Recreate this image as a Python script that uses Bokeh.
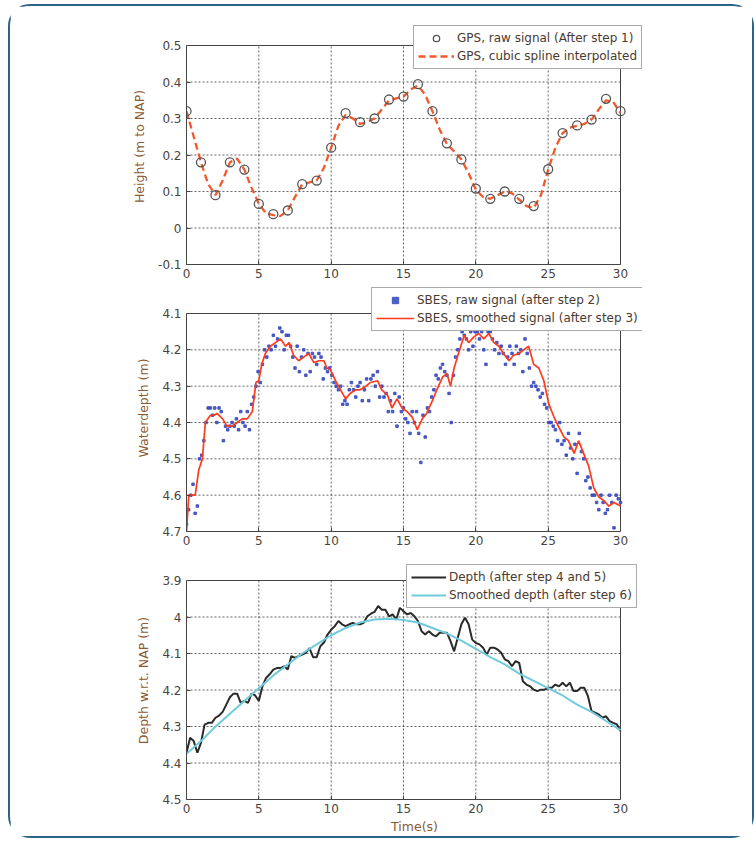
from bokeh.plotting import figure
from bokeh.layouts import column
from bokeh.models import Range1d, FixedTicker, CustomJSTickFormatter, Legend, LegendItem
from bokeh.embed import file_html
from bokeh.resources import INLINE

# ---------------- data ----------------
gps_t = list(range(0, 31))
gps_raw = [0.32, 0.18, 0.09, 0.18, 0.16, 0.066, 0.038, 0.048, 0.12, 0.13, 0.22,
           0.315, 0.29, 0.30, 0.352, 0.36, 0.394, 0.32, 0.232, 0.188, 0.108,
           0.08, 0.10, 0.08, 0.06, 0.161, 0.26, 0.281, 0.297, 0.354, 0.32]
spline_t = [i * 0.5 for i in range(61)]
spline_h = [0.32, 0.25, 0.18, 0.12, 0.09, 0.13, 0.18, 0.19, 0.16, 0.11,
            0.066, 0.04, 0.035, 0.033, 0.048, 0.085, 0.12, 0.125, 0.13, 0.165,
            0.22, 0.28, 0.31, 0.30, 0.285, 0.29, 0.30, 0.325, 0.35, 0.355,
            0.36, 0.38, 0.39, 0.365, 0.32, 0.27, 0.23, 0.21, 0.188, 0.15,
            0.105, 0.085, 0.08, 0.09, 0.10, 0.095, 0.078, 0.06, 0.055, 0.09,
            0.16, 0.22, 0.26, 0.275, 0.28, 0.285, 0.297, 0.325, 0.35, 0.345,
            0.315]

sbes_t = [round(i * 0.15, 2) for i in range(201)]
sbes_raw = [4.68, 4.64, 4.60, 4.57, 4.65, 4.63, 4.50, 4.49, 4.45, 4.40,
            4.36, 4.36, 4.38, 4.36, 4.40, 4.36, 4.37, 4.45, 4.41, 4.42,
            4.41, 4.40, 4.41, 4.39, 4.42, 4.37, 4.40, 4.41, 4.37, 4.42,
            4.35, 4.33, 4.30, 4.26, 4.29, 4.24, 4.20, 4.22, 4.19, 4.20,
            4.16, 4.19, 4.17, 4.14, 4.15, 4.20, 4.16, 4.16, 4.19, 4.22,
            4.25, 4.19, 4.26, 4.22, 4.20, 4.27, 4.21, 4.26, 4.21, 4.22,
            4.24, 4.21, 4.22, 4.28, 4.25, 4.26, 4.25, 4.27, 4.29, 4.30,
            4.31, 4.30, 4.35, 4.34, 4.35, 4.31, 4.29, 4.31, 4.33, 4.30,
            4.29, 4.34, 4.31, 4.28, 4.34, 4.28, 4.27, 4.30, 4.26, 4.33,
            4.30, 4.33, 4.32, 4.37, 4.34, 4.37, 4.32, 4.41, 4.33, 4.37,
            4.36, 4.39, 4.40, 4.43, 4.37, 4.40, 4.37, 4.43, 4.51, 4.38,
            4.44, 4.36, 4.37, 4.33, 4.31, 4.27, 4.28, 4.25, 4.24, 4.26,
            4.27, 4.32, 4.40, 4.27, 4.22, 4.20, 4.17, 4.15, 4.16, 4.17,
            4.20, 4.15, 4.19, 4.15, 4.15, 4.17, 4.15, 4.20, 4.24, 4.15,
            4.15, 4.17, 4.20, 4.18, 4.21, 4.19, 4.21, 4.24, 4.22, 4.19,
            4.21, 4.24, 4.19, 4.21, 4.20, 4.26, 4.17, 4.21, 4.25, 4.30,
            4.29, 4.30, 4.31, 4.33, 4.32, 4.35, 4.36, 4.40, 4.40, 4.41,
            4.42, 4.45, 4.40, 4.46, 4.45, 4.49, 4.43, 4.47, 4.50, 4.46,
            4.54, 4.43, 4.48, 4.50, 4.56, 4.55, 4.58, 4.60, 4.60, 4.62,
            4.64, 4.60, 4.62, 4.65, 4.64, 4.60, 4.62, 4.69, 4.60, 4.61,
            4.62]

smooth_t = [0.0, 0.16, 0.4, 0.6, 0.85, 1.1, 1.3, 1.65, 1.9, 2.1, 2.5, 2.8, 3.15,
            3.5, 3.85, 4.2, 4.55, 4.8, 5.0, 5.2, 5.45, 5.8, 6.15, 6.5, 6.85, 7.1,
            7.4, 7.75, 8.1, 8.45, 8.8, 9.15, 9.5, 9.7, 9.95, 10.3, 10.65, 11.0,
            11.3, 11.7, 12.0, 12.4, 12.7, 13.2, 13.5, 13.9, 14.2, 14.55, 14.9,
            15.25, 15.6, 15.95, 16.3, 16.6, 17.0, 17.3, 17.7, 18.0, 18.25, 18.5,
            18.8, 19.2, 19.5, 19.85, 20.2, 20.55, 20.9, 21.25, 21.6, 21.9, 22.3,
            22.6, 23.0, 23.3, 23.65, 24.0, 24.35, 24.7, 25.05, 25.4, 25.7, 26.1,
            26.4, 26.8, 27.1, 27.45, 27.8, 28.15, 28.5, 28.85, 29.2, 29.55, 30.0]
smooth_d = [4.70, 4.60, 4.60, 4.60, 4.53, 4.50, 4.40, 4.38, 4.38, 4.375, 4.39,
            4.41, 4.41, 4.40, 4.39, 4.39, 4.37, 4.29, 4.285, 4.24, 4.21, 4.19,
            4.18, 4.17, 4.19, 4.18, 4.215, 4.23, 4.22, 4.21, 4.235, 4.23, 4.23,
            4.25, 4.255, 4.285, 4.31, 4.335, 4.32, 4.31, 4.31, 4.30, 4.29, 4.285,
            4.31, 4.325, 4.36, 4.335, 4.36, 4.37, 4.385, 4.42, 4.39, 4.375, 4.34,
            4.31, 4.275, 4.265, 4.30, 4.25, 4.21, 4.16, 4.18, 4.165, 4.155, 4.17,
            4.155, 4.18, 4.19, 4.21, 4.23, 4.215, 4.21, 4.20, 4.19, 4.24, 4.25,
            4.285, 4.35, 4.385, 4.41, 4.44, 4.45, 4.485, 4.45, 4.485, 4.52, 4.58,
            4.605, 4.615, 4.63, 4.62, 4.63]

depth_t = [i * 0.25 for i in range(121)]
depth = [4.372, 4.331, 4.34, 4.372, 4.345, 4.295, 4.29, 4.29, 4.276, 4.27,
         4.26, 4.24, 4.22, 4.21, 4.21, 4.235, 4.23, 4.235, 4.21, 4.215,
         4.23, 4.19, 4.167, 4.157, 4.144, 4.14, 4.14, 4.135, 4.144, 4.107,
         4.112, 4.107, 4.103, 4.098, 4.085, 4.11, 4.11, 4.08, 4.07, 4.048,
         4.035, 4.025, 4.011, 4.02, 4.025, 4.02, 4.016, 4.02, 4.02, 4.016,
         3.998, 3.991, 3.986, 3.97, 3.98, 3.98, 3.998, 3.993, 4.007, 3.975,
         3.984, 3.993, 3.989, 3.998, 4.011, 4.039, 4.048, 4.039, 4.048, 4.053,
         4.043, 4.043, 4.043, 4.066, 4.094, 4.057, 4.02, 4.002, 4.02, 4.062,
         4.071, 4.075, 4.084, 4.103, 4.084, 4.084, 4.089, 4.098, 4.116, 4.121,
         4.135, 4.121, 4.126, 4.176, 4.185, 4.19, 4.199, 4.203, 4.199, 4.199,
         4.194, 4.194, 4.185, 4.19, 4.18, 4.19, 4.18, 4.203, 4.203, 4.194,
         4.194, 4.217, 4.258, 4.262, 4.267, 4.276, 4.272, 4.285, 4.29, 4.294,
         4.313]
sm_depth_t = list(range(0, 31))
sm_depth = [4.375, 4.34, 4.30, 4.265, 4.23, 4.195, 4.16, 4.13, 4.10, 4.075,
            4.05, 4.03, 4.015, 4.007, 4.005, 4.008, 4.015, 4.03, 4.045, 4.065,
            4.087, 4.11, 4.13, 4.155, 4.175, 4.195, 4.215, 4.24, 4.26, 4.285,
            4.31]

x_ticks = [0, 5, 10, 15, 20, 25, 30]
top_y_ticks = [-0.1, 0, 0.1, 0.2, 0.3, 0.4, 0.5]
mid_y_ticks = [4.1, 4.2, 4.3, 4.4, 4.5, 4.6, 4.7]
bot_y_ticks = [3.9, 4.0, 4.1, 4.2, 4.3, 4.4, 4.5]

# ---------------- styling ----------------
FONT = "DejaVu Sans"
TICK_COLOR = "#4a4440"
LABEL_COLOR = "#8a5a32"
BOX = "#444444"
fmt_code = "return String(Number(tick.toFixed(2)));"
PW, FW = 434, 742          # axes-box width, figure width
XR_EXT = 22                # extra frame px right of the axes box (room for legend)


def make_fig(y_bot, y_top, yticks, ylabel, top, ph, ext, bottom, xlabel=None):
    dy = (y_top - y_bot) / ph
    dx = 30.0 / PW
    p = figure(frame_width=PW + XR_EXT, frame_height=ph + ext,
               x_range=Range1d(0, 30 + XR_EXT * dx),
               y_range=Range1d(y_bot, y_top + ext * dy),
               output_backend="svg", toolbar_location=None,
               min_border_left=176, min_border_right=FW - 176 - PW - XR_EXT,
               min_border_top=top, min_border_bottom=bottom,
               background_fill_color="white", border_fill_color="white")
    p.outline_line_color = None
    p.xgrid.visible = False
    p.ygrid.visible = False
    ymin, ymax = min(y_bot, y_top), max(y_bot, y_top)
    for ax in (p.xaxis[0], p.yaxis[0]):
        ax.major_tick_in = 4
        ax.major_tick_out = 0
        ax.minor_tick_in = 0
        ax.minor_tick_out = 0
        ax.axis_line_color = BOX
        ax.major_tick_line_color = BOX
        ax.major_label_text_font = FONT
        ax.major_label_text_font_size = "12px"
        ax.major_label_text_color = TICK_COLOR
        ax.axis_label_text_font = FONT
        ax.axis_label_text_font_size = "12.5px"
        ax.axis_label_text_font_style = "normal"
        ax.axis_label_text_color = LABEL_COLOR
        ax.formatter = CustomJSTickFormatter(code=fmt_code)
    p.xaxis[0].ticker = FixedTicker(ticks=x_ticks)
    p.yaxis[0].ticker = FixedTicker(ticks=yticks)
    p.xaxis[0].bounds = (0, 30)
    p.yaxis[0].bounds = (ymin, ymax)
    p.xaxis[0].major_label_standoff = 4
    p.yaxis[0].major_label_standoff = 5
    p.yaxis[0].axis_label = ylabel
    p.yaxis[0].axis_label_standoff = 8
    if xlabel:
        p.xaxis[0].axis_label = xlabel
        p.xaxis[0].axis_label_standoff = 3
    # dotted grid inside the axes box
    inner_x = [t for t in x_ticks if 0 < t < 30]
    inner_y = [t for t in yticks if ymin < t < ymax]
    p.segment(x0=inner_x, y0=[ymin] * len(inner_x), x1=inner_x, y1=[ymax] * len(inner_x),
              line_color="#333333", line_alpha=0.75, line_dash="2 2", line_width=1)
    p.segment(x0=[0] * len(inner_y), y0=inner_y, x1=[30] * len(inner_y), y1=inner_y,
              line_color="#333333", line_alpha=0.75, line_dash="2 2", line_width=1)
    # top and right edges of the axes box
    p.line([0, 30, 30], [y_top, y_top, y_bot], line_color=BOX, line_width=1)
    return p


def add_legend(p, items, loc, gw):
    lg = Legend(items=items, location=loc, orientation="vertical",
                label_text_font=FONT, label_text_font_size="12px",
                label_text_color="#4a3a30", glyph_width=gw, glyph_height=16,
                label_height=16, label_standoff=3, spacing=2, padding=4, margin=0,
                border_line_color="#555555", border_line_width=1.5,
                background_fill_color="white", background_fill_alpha=1.0)
    p.add_layout(lg, "center")


# top panel
p1 = make_fig(-0.1, 0.5, top_y_ticks, "Height  (m to NAP)", 18, 219, 21, 18)
r_dash = p1.line(spline_t, spline_h, line_color="#f2582a", line_width=2.3, line_dash="7 4")
r_circ = p1.scatter(gps_t, gps_raw, marker="circle", size=9, fill_color=None,
                    line_color="#555555", line_width=1.3)
add_legend(p1, [LegendItem(label="GPS, raw signal (After step 1)", renderers=[r_circ]),
                LegendItem(label="GPS, cubic spline interpolated", renderers=[r_dash])],
           (227, 195), 36)

# middle panel
p2 = make_fig(4.7, 4.1, mid_y_ticks, "Waterdepth (m)", 2, 218, 29, 26)
r_dots = p2.scatter(sbes_t, sbes_raw, marker="square", size=2.5, color="#3a4cc0", alpha=0.9)
r_red = p2.line(smooth_t, smooth_d, line_color="#ff3a1a", line_width=1.7)
add_legend(p2, [LegendItem(label="SBES, raw signal (after step 2)", renderers=[r_dots]),
                LegendItem(label="SBES, smoothed signal (after step 3)", renderers=[r_red])],
           (185, 200), 38)

# bottom panel
p3 = make_fig(4.5, 3.9, bot_y_ticks, "Depth w.r.t. NAP (m)", 4, 219, 19, 37, "Time(s)")
r_blk = p3.line(depth_t, depth, line_color="#2a2a2a", line_width=2)
r_cyan = p3.line(sm_depth_t, sm_depth, line_color="#6fcbdc", line_width=2)
add_legend(p3, [LegendItem(label="Depth (after step 4 and 5)", renderers=[r_blk]),
                LegendItem(label="Smoothed depth (after step 6)", renderers=[r_cyan])],
           (220, 191), 35)

layout = column(p1, p2, p3, spacing=0, margin=(4, 0, 0, 8),
                styles={"border": "2px solid #2c6486", "border-radius": "22px",
                        "background-color": "white"})

open("out.html", "w").write(file_html(layout, INLINE))
